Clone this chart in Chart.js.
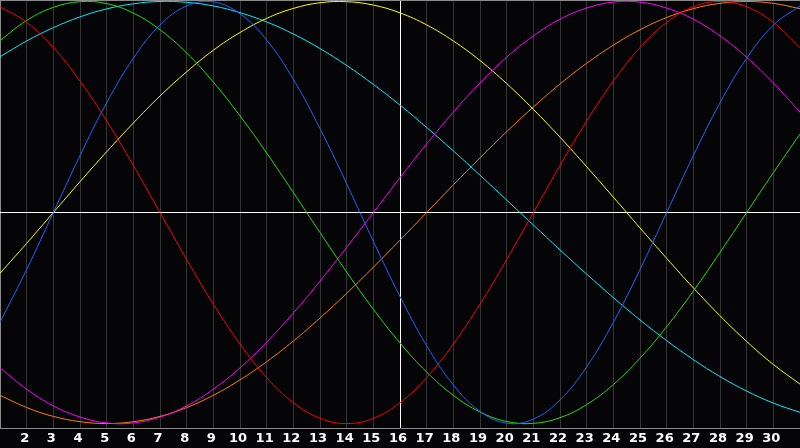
<!DOCTYPE html>
<html>
<head>
<meta charset="utf-8">
<script src="https://cdn.jsdelivr.net/npm/chart.js@4.4.0/dist/chart.umd.min.js"></script>
<style>
  html, body { margin: 0; padding: 0; background: #050508; }
  #wrap { width: 800px; height: 448px; }
</style>
</head>
<body>
<div id="wrap"><canvas id="myChart" width="800" height="448"></canvas></div>
<script>
// Days of the month (x axis)
let days = [];
for (let d = 1; d <= 31; d++) days.push(String(d));

// Cycle values, one per day
let physical = [-0.52, -0.27, 0, 0.27, 0.52, 0.731, 0.888, 0.979, 0.998, 0.942, 0.817, 0.631, 0.398, 0.136, -0.136, -0.398,
  -0.631, -0.817, -0.942, -0.998, -0.979, -0.888, -0.731, -0.52, -0.27, 0, 0.27, 0.52, 0.731, 0.888, 0.979];
let emotional = [0.975, 0.901, 0.782, 0.623, 0.434, 0.223, 0, -0.223, -0.434, -0.623, -0.782, -0.901, -0.975, -1, -0.975, -0.901,
  -0.782, -0.623, -0.434, -0.223, 0, 0.223, 0.434, 0.623, 0.782, 0.901, 0.975, 1, 0.975, 0.901, 0.782];
let intellectual = [0.815, 0.91, 0.972, 0.999, 0.99, 0.945, 0.866, 0.756, 0.618, 0.458, 0.282, 0.095, -0.095, -0.282, -0.458, -0.618,
  -0.756, -0.866, -0.945, -0.99, -0.999, -0.972, -0.91, -0.815, -0.69, -0.541, -0.372, -0.189, 0, 0.189, 0.372];
let intuitive = [-0.736, -0.837, -0.916, -0.969, -0.997, -0.997, -0.969, -0.916, -0.837, -0.736, -0.614, -0.476, -0.325, -0.165, 0, 0.165,
  0.325, 0.476, 0.614, 0.736, 0.837, 0.916, 0.969, 0.997, 0.997, 0.969, 0.916, 0.837, 0.736, 0.614, 0.476];
let aesthetic = [-0.288, -0.146, 0, 0.146, 0.288, 0.424, 0.552, 0.667, 0.769, 0.853, 0.92, 0.967, 0.994, 0.999, 0.983, 0.946,
  0.889, 0.813, 0.72, 0.611, 0.489, 0.357, 0.217, 0.073, -0.073, -0.217, -0.357, -0.489, -0.611, -0.72, -0.813];
let awareness = [-0.866, -0.924, -0.966, -0.991, -1, -0.991, -0.966, -0.924, -0.866, -0.793, -0.707, -0.609, -0.5, -0.383, -0.259, -0.131,
  0, 0.131, 0.259, 0.383, 0.5, 0.609, 0.707, 0.793, 0.866, 0.924, 0.966, 0.991, 1, 0.991, 0.966];
let spiritual = [0.738, 0.813, 0.876, 0.927, 0.965, 0.989, 1, 0.996, 0.979, 0.947, 0.903, 0.846, 0.777, 0.697, 0.607, 0.509,
  0.403, 0.292, 0.177, 0.059, -0.059, -0.177, -0.292, -0.403, -0.509, -0.607, -0.697, -0.777, -0.846, -0.903, -0.947];

let seriesNames = ['Physical', 'Emotional', 'Intellectual', 'Intuitive', 'Aesthetic', 'Awareness', 'Spiritual'];
let seriesData = [physical, emotional, intellectual, intuitive, aesthetic, awareness, spiritual];
let seriesColors = ['#1466ff', '#ff0000', '#22e000', '#ff00ff', '#ffff00', '#ff8000', '#00eeff'];

let todayIndex = 15; // day 16
let yMin = -1.021;
let yMax = 1.007;

// Paint the black background behind everything
let background = {
    id: 'background',
    beforeDraw(chart) {
        let c = chart.ctx;
        c.save();
        c.fillStyle = '#050508';
        c.fillRect(0, 0, chart.width, chart.height);
        c.restore();
    }
};

let ctx = document.getElementById('myChart').getContext('2d');

let chart = new Chart(ctx, {
    type: 'line',
    data: {
        labels: days,
        datasets: seriesData.map((values, i) => ({
            label: seriesNames[i],
            data: values,
            borderColor: seriesColors[i],
            borderWidth: 1,
            pointRadius: 0,
            tension: 0.4,
            fill: false
        }))
    },
    options: {
        responsive: false,
        animation: false,
        layout: { padding: 0 },
        plugins: {
            legend: { display: false },
            tooltip: { enabled: false }
        },
        scales: {
            x: {
                offset: false,
                grid: {
                    drawTicks: false,
                    lineWidth: 1,
                    color: (c) => {
                        if (c.index === todayIndex) return '#ffffff';
                        if (c.index === 0) return '#8a8a8a';
                        return '#353535';
                    }
                },
                border: { display: true, color: '#8a8a8a', width: 1 },
                ticks: {
                    autoSkip: false,
                    maxRotation: 0,
                    padding: 3,
                    labelOffset: -2,
                    color: '#ffffff',
                    font: { family: 'DejaVu Sans', weight: 'bold', size: 13 },
                    callback: function(value, index) {
                        if (index === 0 || index === days.length - 1) return '';
                        return days[index];
                    }
                },
                afterFit: (scale) => {
                    scale.height = 20;
                    scale.paddingLeft = 0;
                    scale.paddingRight = 0;
                }
            },
            y: {
                min: yMin,
                max: yMax,
                afterBuildTicks: (scale) => {
                    scale.ticks = [{ value: yMin }, { value: 0 }, { value: yMax }];
                },
                grid: {
                    drawTicks: false,
                    color: (c) => {
                        if (c.tick && c.tick.value === 0) return '#ffffff';
                        if (c.tick && c.tick.value === yMax) return '#8a8a8a';
                        return 'rgba(0,0,0,0)';
                    }
                },
                border: { display: false },
                ticks: { display: false },
                afterFit: (scale) => {
                    scale.width = 0;
                    scale.paddingTop = 0;
                    scale.paddingBottom = 0;
                }
            }
        }
    },
    plugins: [background]
});
</script>
</body>
</html>
